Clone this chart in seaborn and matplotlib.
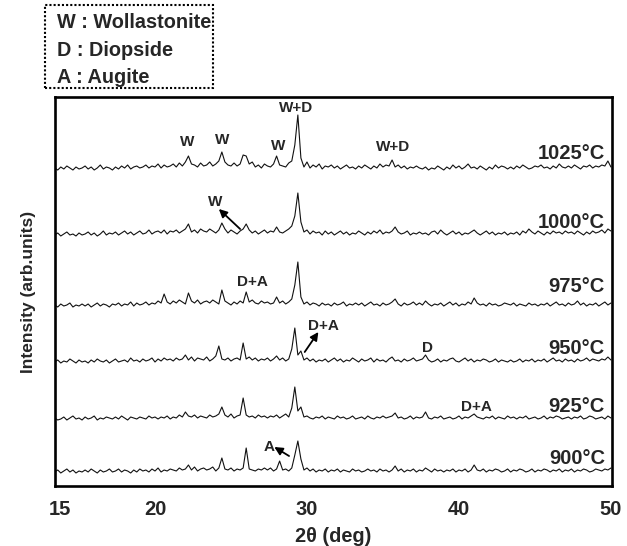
import numpy as np
import pandas as pd
import matplotlib
matplotlib.use("Agg")
import matplotlib.pyplot as plt
from matplotlib.patches import Rectangle
import seaborn as sns

# ---- scan definition (2theta, deg) ----
scan_start = 13.4
scan_step = 0.2
n_points = 184

# ---- intensities (arb. units, above each trace's baseline) ----
t1025 = [2,0,3,1,4,2,0,3,1,2, 4,1,3,0,2,5,1,3,2,0, 3,1,4,2,5,1,3,4,2,3,
         5,2,4,3,6,2,5,3,4,6, 3,7,4,8,14,6,5,3,7,4, 5,8,4,6,9,18,8,5,4,7,
         4,6,15,14,6,8,3,5,2,6, 4,3,6,14,5,4,3,7,9,25, 55,12,3,8,2,5,3,6,1,4,
         3,5,2,4,1,3,5,2,3,1, 4,2,5,3,1,4,2,6,3,5, 4,10,3,5,2,4,1,3,2,4,
         2,1,3,0,2,1,4,2,0,3, 1,5,2,4,1,3,6,2,3,1, 4,2,0,3,1,5,2,4,3,1,
         3,1,4,2,5,3,1,2,4,3, 5,2,3,1,4,2,6,3,2,4, 2,5,3,1,4,3,5,2,4,3,
         5,4,9,3]
t1000 = [1,3,0,2,4,1,2,0,3,1, 2,4,1,3,0,2,5,1,3,2, 4,1,3,5,2,4,1,3,5,2,
         3,6,2,4,5,3,6,2,5,4, 6,3,5,7,12,4,6,3,7,5, 4,7,5,3,6,13,7,3,6,4,
         2,5,7,12,6,3,5,2,4,6, 3,5,4,9,4,3,5,7,10,20, 43,14,4,6,2,5,3,4,1,5,
         2,4,1,3,5,2,4,1,3,2, 5,3,1,4,2,5,3,6,2,4, 3,5,9,4,2,3,5,1,3,2,
         4,2,3,1,4,5,2,6,3,1, 3,5,2,4,1,3,2,4,6,3, 1,3,5,2,4,1,3,2,4,1,
         3,2,4,1,5,3,7,4,2,5, 3,1,4,2,5,3,4,2,5,3, 4,2,5,3,1,4,2,5,3,4,
         6,3,7,5]
t975 = [2,0,3,1,2,4,0,2,1,3, 1,3,0,2,4,1,3,2,0,3, 2,4,1,3,2,5,1,4,2,3,
        5,2,4,3,6,4,13,5,3,6, 4,7,5,3,14,6,4,7,3,5, 6,4,7,5,3,17,6,4,2,5,
        3,6,4,15,5,7,4,3,6,4, 5,3,4,10,4,6,3,5,8,22, 45,10,3,5,2,4,3,1,4,2,
        3,1,4,2,3,5,1,3,2,4, 2,4,1,3,5,2,3,1,4,2, 3,5,8,3,1,4,2,3,5,2,
        4,2,6,3,1,3,2,4,1,3, 5,2,4,1,3,2,5,3,9,4, 2,3,1,4,2,3,1,2,4,3,
        2,4,1,3,2,1,4,2,3,1, 3,2,4,1,3,5,2,3,1,4, 2,3,6,2,4,1,3,2,4,1,
        3,5,2,4]
t950 = [1,3,0,2,1,4,2,0,3,1, 2,0,3,1,4,2,1,3,0,2, 4,1,2,3,1,5,2,3,1,4,
        2,3,5,1,4,2,5,3,4,2, 5,3,4,8,3,6,2,5,4,3, 6,2,4,7,17,4,3,5,2,4,
        5,3,20,4,6,3,5,2,4,3, 5,2,4,7,3,5,2,4,14,35, 8,12,3,5,2,4,1,3,2,4,
        1,3,5,2,4,1,3,2,5,3, 1,4,2,3,5,1,4,2,3,1, 4,6,2,3,1,4,2,3,5,2,
        3,4,8,3,1,2,4,1,3,2, 4,5,2,1,3,5,2,4,1,3, 2,4,3,1,2,4,1,3,2,1,
        3,1,2,4,1,3,2,4,1,3, 2,4,1,3,5,2,3,1,4,2, 3,1,4,2,3,5,2,4,3,2,
        4,3,6,3]
t925 = [2,0,1,3,0,2,4,1,2,0, 3,1,2,4,0,2,1,3,2,1, 3,1,4,2,0,3,2,1,3,2,
        1,4,2,3,1,3,2,4,1,3, 2,5,3,8,4,3,5,2,4,3, 2,5,3,4,6,13,5,3,6,2,
        4,5,22,5,3,4,2,5,3,4, 2,4,3,5,2,4,6,3,12,33, 9,13,3,4,2,1,3,2,4,1,
        3,2,1,4,2,3,1,2,4,1, 2,3,1,4,2,1,3,2,4,2, 3,4,7,2,3,1,2,4,1,3,
        2,3,8,2,1,3,2,4,1,2, 3,1,2,4,1,3,2,4,6,3, 2,1,3,2,4,1,3,2,1,4,
        2,3,1,3,2,4,1,2,3,1, 2,4,1,3,2,4,3,1,2,3, 1,3,2,4,1,2,4,3,1,2,
        3,1,4,2]
t900 = [1,3,0,2,4,1,3,0,2,1, 3,1,4,2,0,3,1,2,4,1, 2,4,1,3,2,0,3,1,4,2,
        3,1,4,2,5,1,3,2,4,3, 2,5,3,4,8,3,6,2,4,5, 3,4,6,2,5,15,4,3,5,2,
        4,3,5,25,4,3,2,4,3,5, 3,5,2,4,12,3,4,2,5,18, 32,14,3,5,2,4,1,3,2,4,
        1,3,2,4,1,3,2,1,4,2, 3,1,2,4,2,3,1,4,2,3, 1,3,7,2,4,1,3,2,4,1,
        3,2,5,3,1,4,2,3,1,3, 2,4,1,3,2,4,1,3,8,3, 2,4,1,3,2,4,3,1,2,4,
        1,3,2,4,3,1,2,4,1,3, 2,4,3,1,3,2,4,1,3,2, 4,1,3,2,4,3,1,2,4,3,
        2,4,3,5]

temps = ["1025°C", "1000°C", "975°C", "950°C", "925°C", "900°C"]
traces = [t1025, t1000, t975, t950, t925, t900]
offsets = [316, 250, 179, 123, 66, 13]
temp_label_y = [333, 264, 199, 138, 79, 28]

tick_pos = [13.75, 20, 30, 40, 50]
tick_labels = ["15", "20", "30", "40", "50"]

legend_lines = ["W : Wollastonite", "D : Diopside", "A : Augite"]

# ---- build tidy frame ----
two_theta = scan_start + scan_step * np.arange(n_points)
frames = []
for name, tr, off in zip(temps, traces, offsets):
    frames.append(pd.DataFrame({"two_theta": two_theta,
                                "intensity": np.asarray(tr, float) + off,
                                "temp": name}))
df = pd.concat(frames, ignore_index=True)

sns.set_style("white")
plt.rcParams["font.family"] = ["Liberation Sans", "DejaVu Sans"]
plt.rcParams["font.weight"] = "bold"

W, H = 627, 546
fig = plt.figure(figsize=(W / 100, H / 100), dpi=100)
ax = fig.add_axes([55 / W, (H - 486) / H, 557 / W, 389 / H])

sns.lineplot(data=df, x="two_theta", y="intensity", hue="temp",
             palette=["#111111"] * len(temps), linewidth=0.8,
             legend=False, ax=ax, estimator=None, sort=False)

ax.set_xlim(13.42, 50.07)
ax.set_ylim(0, 389)
ax.set_xticks(tick_pos)
ax.set_xticklabels(tick_labels, fontsize=14.5, fontweight="bold")
ax.set_yticks([])
ax.tick_params(axis="x", length=0, pad=10)
ax.set_xlabel("2θ (deg)", fontsize=14.3, fontweight="bold", labelpad=6)
ax.set_ylabel("Intensity (arb.units)", fontsize=12.5, fontweight="bold", labelpad=14)
for s in ax.spines.values():
    s.set_visible(True)
    s.set_linewidth(1.9)
    s.set_color("black")

# temperature labels
for name, ty in zip(temps, temp_label_y):
    ax.text(49.6, ty, name, ha="right", va="center", fontsize=14.5, fontweight="bold")

pk = dict(ha="center", va="center", fontsize=11, fontweight="bold")
# 1025
ax.text(22.1, 344, "W", **pk)
ax.text(24.4, 346, "W", **pk)
ax.text(28.1, 340, "W", **pk)
ax.text(29.3, 378, "W+D", **pk)
ax.text(35.66, 339, "W+D", **pk)
arrow = dict(arrowstyle="-|>", color="black", lw=1.3, mutation_scale=12,
             shrinkA=0, shrinkB=0)
# 1000
ax.text(23.95, 284, "W", **pk)
ax.annotate("", xy=(24.2, 277), xytext=(25.6, 257), arrowprops=arrow)
# 975
ax.text(26.38, 204, "D+A", **pk)
# 950
ax.text(31.1, 160, "D+A", **pk)
ax.annotate("", xy=(30.75, 154), xytext=(29.85, 134), arrowprops=arrow)
ax.text(37.9, 138, "D", **pk)
# 925
ax.text(41.18, 79, "D+A", **pk)
# 900
ax.text(27.5, 39, "A", **pk)
ax.annotate("", xy=(27.85, 39), xytext=(28.82, 30), arrowprops=arrow)

# phase key box
fig.patches.append(Rectangle((45 / W, 1 - 88 / H), 168 / W, 83 / H,
                             transform=fig.transFigure, fill=False,
                             edgecolor="black", linestyle=(0, (1, 1)),
                             linewidth=1.5))
for i, line in enumerate(legend_lines):
    fig.text(57 / W, 1 - (22 + 28 * i) / H, line, ha="left", va="center",
             fontsize=14.3, fontweight="bold")

fig.savefig("out.png", dpi=100)
